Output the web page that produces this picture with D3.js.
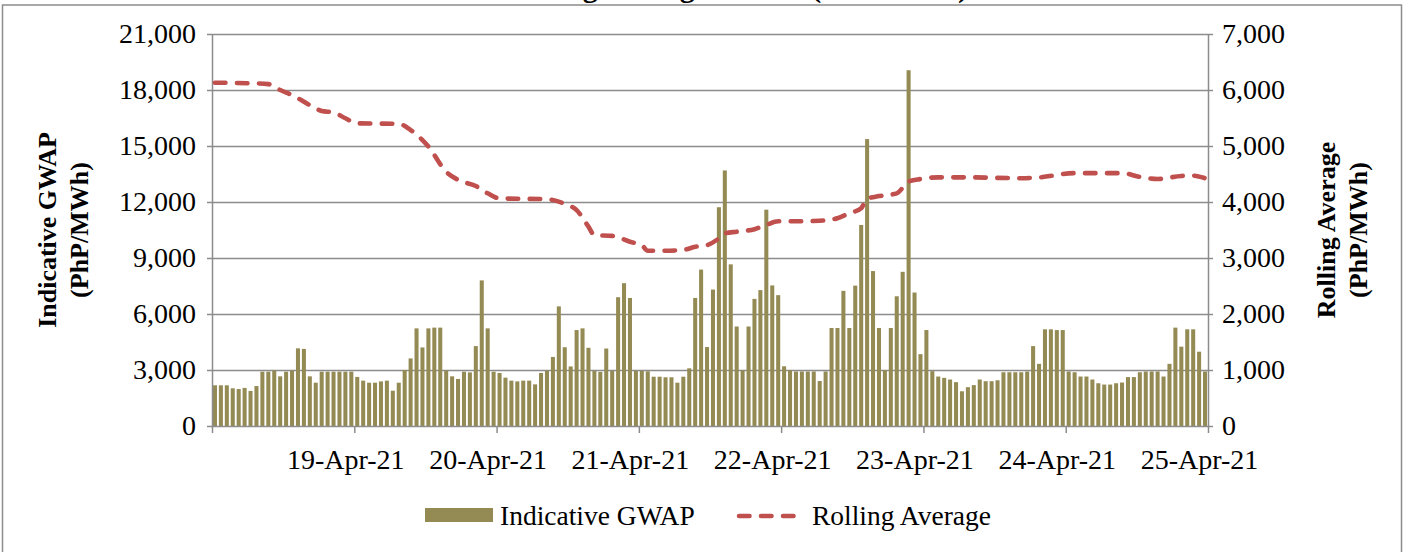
<!DOCTYPE html>
<html>
<head>
<meta charset="utf-8">
<script src="https://cdn.jsdelivr.net/npm/d3@7"></script>
<style>
  body { margin: 0; background: #fff; }
  svg { display: block; }
</style>
</head>
<body>
<svg id="chart" width="1405" height="552"></svg>
<script>
// day labels on the x axis (one tick every 24 trading intervals)
const dayLabels = ['19-Apr-21', '20-Apr-21', '21-Apr-21', '22-Apr-21', '23-Apr-21', '24-Apr-21', '25-Apr-21']

// hourly indicative GWAP (PhP/MWh), 18-Apr to 24-Apr
const gwap = [
  2180, 2180, 2180, 2020, 1980, 2040, 1880, 2140, 2910, 2910, 2980, 2660, 2910, 2980, 4160, 4130, 2660, 2320, 2910, 2910, 2910, 2910, 2910, 2910,
  2630, 2430, 2320, 2320, 2390, 2430, 1890, 2320, 3000, 3620, 5230, 4210, 5230, 5270, 5270, 2970, 2660, 2520, 2910, 2870, 4280, 7800, 5230, 2910,
  2840, 2590, 2430, 2390, 2430, 2430, 2230, 2840, 2970, 3700, 6410, 4220, 3190, 5140, 5230, 4190, 2950, 2900, 4150, 2950, 6900, 7650, 6860, 2950,
  2960, 2930, 2640, 2640, 2610, 2610, 2320, 2640, 3090, 6860, 8380, 4230, 7310, 11720, 13690, 8660, 5330, 2980, 5330, 6810, 7280, 11590, 7530, 7010,
  3200, 2990, 2920, 2920, 2920, 2920, 2410, 2920, 5250, 5250, 7240, 5250, 7520, 10770, 15370, 8300, 5250, 2990, 5250, 6950, 8260, 19060, 7150, 3850,
  5140, 2940, 2650, 2580, 2490, 2350, 1860, 2080, 2190, 2490, 2400, 2400, 2450, 2880, 2880, 2880, 2880, 2920, 4280, 3330, 5180, 5180, 5140, 5140,
  2920, 2880, 2650, 2650, 2490, 2290, 2220, 2220, 2290, 2330, 2620, 2620, 2880, 2920, 2920, 2920, 2650, 3330, 5270, 4250, 5180, 5180, 3980, 2920,
]

// rolling average read at these interval indices
const rollHour = [0, 6, 9, 11, 13, 16, 18, 20, 22, 24, 31, 33, 36, 39, 41, 44, 46, 48, 56, 59, 61, 63, 64, 67, 70, 72, 73, 76, 79, 81, 83, 85, 86, 88, 91, 93, 95, 98, 102, 105, 107, 109, 110, 112, 115, 117, 119, 122, 127, 136, 139, 145, 150, 153, 156, 159, 163, 165, 167]
const rollValue = [6130, 6120, 6105, 6000, 5910, 5730, 5625, 5600, 5495, 5405, 5395, 5285, 4990, 4540, 4395, 4285, 4155, 4065, 4050, 3965, 3855, 3560, 3410, 3395, 3290, 3230, 3130, 3130, 3145, 3200, 3230, 3350, 3440, 3470, 3515, 3590, 3655, 3655, 3665, 3710, 3800, 3890, 4055, 4105, 4155, 4365, 4410, 4440, 4440, 4425, 4440, 4515, 4515, 4515, 4450, 4410, 4465, 4470, 4425]

const leftTicks = [0, 3000, 6000, 9000, 12000, 15000, 18000, 21000]
const rightTicks = [0, 1000, 2000, 3000, 4000, 5000, 6000, 7000]

const width = 1405
const height = 552
const margin = { top: 34, right: 197, bottom: 126, left: 212 }
const chartWidth = width - margin.left - margin.right
const chartHeight = height - margin.top - margin.bottom

const barColor = '#948A54'
const lineColor = '#C0504D'
const gridColor = '#8C8C8C'
const font = '"Liberation Serif", "Times New Roman", serif'

const svg = d3.select('#chart')

// outer frame
svg.append('rect')
  .attr('x', 2.5).attr('y', 5)
  .attr('width', width - 6).attr('height', height + 20)
  .attr('fill', '#fff')
  .attr('stroke', '#8C8C8C')
  .attr('stroke-width', 1.5)

// chart title, cut off at the top of the picture (only descenders show)
svg.append('text')
  .attr('x', 968).attr('y', -3)
  .attr('text-anchor', 'end')
  .attr('font-family', font)
  .attr('font-weight', 'bold')
  .attr('font-size', 30)
  .text('Indicative GWAP and Rolling Average GWAP (PhP/MWh)')

const g = svg.append('g')
  .attr('transform', `translate(${margin.left},${margin.top})`)

const x = d3.scaleBand()
  .domain(d3.range(gwap.length))
  .range([0, chartWidth])
  .paddingInner(0.32)
  .paddingOuter(0.16)

const xHour = d3.scaleLinear()
  .domain([0, gwap.length])
  .range([0, chartWidth])

const y = d3.scaleLinear().domain([0, 21000]).range([chartHeight, 0])
const y2 = d3.scaleLinear().domain([0, 7000]).range([chartHeight, 0])

// gridlines
g.append('g')
  .call(d3.axisLeft(y).tickValues(leftTicks.slice(1)).tickSize(-chartWidth).tickFormat(''))
  .call((s) => s.select('.domain').remove())
  .call((s) => s.selectAll('line').attr('stroke', gridColor).attr('stroke-width', 1.3))

// bars
g.append('g')
  .selectAll('rect')
  .data(gwap)
  .join('rect')
  .attr('x', (d, i) => x(i))
  .attr('y', (d) => y(d))
  .attr('width', x.bandwidth())
  .attr('height', (d) => chartHeight - y(d))
  .attr('fill', barColor)

// axes
const styleAxis = (s) => {
  s.selectAll('.domain').attr('stroke', gridColor).attr('stroke-width', 1.5)
  s.selectAll('.tick line').attr('stroke', gridColor).attr('stroke-width', 1.5)
  s.selectAll('text')
    .attr('font-family', font)
    .attr('font-size', 28)
    .attr('fill', '#000')
}

g.append('g')
  .call(d3.axisLeft(y).tickValues(leftTicks).tickSize(5).tickSizeOuter(0).tickPadding(11).tickFormat(d3.format(',')))
  .call(styleAxis)

g.append('g')
  .attr('transform', `translate(${chartWidth},0)`)
  .call(d3.axisRight(y2).tickValues(rightTicks).tickSize(5).tickSizeOuter(0).tickPadding(9).tickFormat(d3.format(',')))
  .call(styleAxis)

g.append('g')
  .attr('transform', `translate(0,${chartHeight})`)
  .call(d3.axisBottom(xHour)
    .tickValues(d3.range(0, gwap.length + 1, 24))
    .tickSize(7).tickSizeOuter(0).tickPadding(16)
    .tickFormat((d) => (d === 0 ? '' : dayLabels[d / 24 - 1])))
  .call(styleAxis)
  .call((s) => s.selectAll('.tick text').attr('dx', -9))

// rolling average line
const line = d3.line()
  .x((d, i) => x(rollHour[i]) + x.bandwidth() / 2)
  .y((d) => y2(d))
  .curve(d3.curveMonotoneX)

g.append('path')
  .datum(rollValue)
  .attr('d', line)
  .attr('fill', 'none')
  .attr('stroke', lineColor)
  .attr('stroke-width', 4.6)
  .attr('stroke-linecap', 'round')
  .attr('stroke-dasharray', '10.5 11.5')

// axis titles
const titles = [
  { x: 56, text: 'Indicative GWAP' },
  { x: 88, text: '(PhP/MWh)' },
  { x: 1335, text: 'Rolling Average' },
  { x: 1367, text: '(PhP/MWh)' },
]
svg.append('g')
  .selectAll('text')
  .data(titles)
  .join('text')
  .attr('transform', (d) => `translate(${d.x},${margin.top + chartHeight / 2}) rotate(-90)`)
  .attr('text-anchor', 'middle')
  .attr('font-family', font)
  .attr('font-weight', 'bold')
  .attr('font-size', 26)
  .text((d) => d.text)

// legend
const legend = svg.append('g')
  .attr('font-family', font)
  .attr('font-size', 27.5)

legend.append('rect')
  .attr('x', 425).attr('y', 508)
  .attr('width', 68).attr('height', 14)
  .attr('fill', barColor)
legend.append('text')
  .attr('x', 500).attr('y', 525)
  .text('Indicative GWAP')

legend.append('line')
  .attr('x1', 739).attr('x2', 799)
  .attr('y1', 516).attr('y2', 516)
  .attr('stroke', lineColor)
  .attr('stroke-width', 4.6)
  .attr('stroke-linecap', 'round')
  .attr('stroke-dasharray', '10.5 11.5')
legend.append('text')
  .attr('x', 812).attr('y', 525)
  .text('Rolling Average')
</script>
</body>
</html>
